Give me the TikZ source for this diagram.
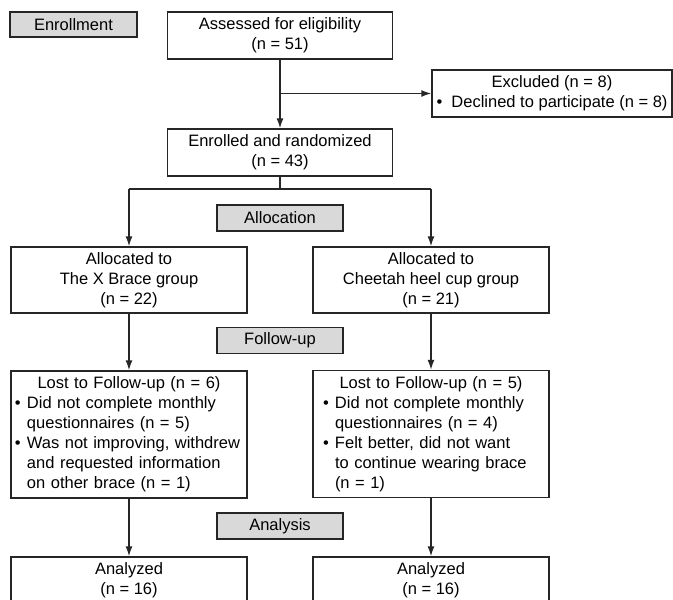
\documentclass[tikz,border=0pt]{standalone}
\usepackage{fontspec}
\setmainfont{Liberation Sans}
\usetikzlibrary{arrows.meta, positioning}

\tikzset{
    box/.style={draw=black!85, line width=1.4pt, inner sep=0pt, align=center, font=\fontsize{16.5}{20}\selectfont},
    stage/.style={box, fill=gray!30, minimum width=126pt, minimum height=26pt},
    wide/.style={box, minimum width=236pt},
    arr/.style={draw=black!85, line width=1.4pt, -{Latex[length=10pt,width=7pt]}},
    link/.style={draw=black!85, line width=1.4pt},
}
\newcommand{\bul}{\makebox[12pt][l]{\textbullet}}
\newcommand{\ind}{\hspace*{12pt}}

\begin{document}
\begin{tikzpicture}[x=1pt, y=-1pt]
    \useasboundingbox (0,0) rectangle (673,600);
    \def\cx{280}        % centre column
    \def\lx{129}        % left arm
    \def\rx{431}        % right arm
    % Stage labels
    \node[stage, minimum width=127pt, minimum height=25pt] (enrol) at (73.5,24.5) {Enrollment};
    \node[stage] (alloc) at (\cx,218) {Allocation};
    \node[stage] (follow) at (\cx,340.5) {Follow-up};
    \node[stage] (analysis) at (\cx,526) {Analysis};
    % Draw the enrollment boxes
    \node[box, minimum width=225pt, minimum height=47pt] (assess) at (\cx,35.5) {Assessed for eligibility\\(n = 51)};
    \node[box, minimum width=240pt, minimum height=47pt] (excl) at (552,93.5) {Excluded (n = 8)\\\textbullet\ \ Declined to participate (n = 8)};
    \node[box, minimum width=225pt, minimum height=47pt] (rand) at (\cx,152.5) {Enrolled and randomized\\(n = 43)};
    % Draw the two arms
    \node[wide, minimum height=66pt] (allocL) at (\lx,280) {Allocated to\\The X Brace group\\(n = 22)};
    \node[wide, minimum height=66pt] (allocR) at (\rx,280) {Allocated to\\Cheetah heel cup group\\(n = 21)};
    \node[wide, minimum height=127pt, inner xsep=4pt, text width=228pt, align=left] (lostL) at (\lx,434.5)
        {\makebox[\linewidth]{Lost to Follow-up (n = 6)}\\
         \bul Did not complete monthly\\
         \ind questionnaires (n = 5)\\
         \bul Was not improving, withdrew\\
         \ind and requested information\\
         \ind on other brace (n = 1)};
    \node[wide, minimum height=127pt, inner xsep=10pt, text width=216pt, align=left] (lostR) at (\rx,434)
        {\makebox[\linewidth]{Lost to Follow-up (n = 5)}\\
         \bul Did not complete monthly\\
         \ind questionnaires (n = 4)\\
         \bul Felt better, did not want\\
         \ind to continue wearing brace\\
         \ind (n = 1)};
    \node[wide, minimum height=47pt] (anaL) at (\lx,580.5) {Analyzed\\(n = 16)};
    \node[wide, minimum height=47pt] (anaR) at (\rx,580.5) {Analyzed\\(n = 16)};
    % Draw the connectors
    \coordinate (branch) at (assess.south |- excl.west);
    \coordinate (split) at (\cx,189);
    \draw[arr] (assess) -- (rand);
    \draw[arr] (branch) -- (excl);
    \draw[link] (rand) -- (split);
    \draw[link] (allocL.north |- split) -- (allocR.north |- split);
    \draw[arr] (allocL.north |- split) -- (allocL);
    \draw[arr] (allocR.north |- split) -- (allocR);
    \draw[arr] (allocL) -- (lostL);
    \draw[arr] (allocR) -- (lostR);
    \draw[arr] (lostL) -- (anaL);
    \draw[arr] (lostR) -- (anaR);
\end{tikzpicture}
\end{document}
